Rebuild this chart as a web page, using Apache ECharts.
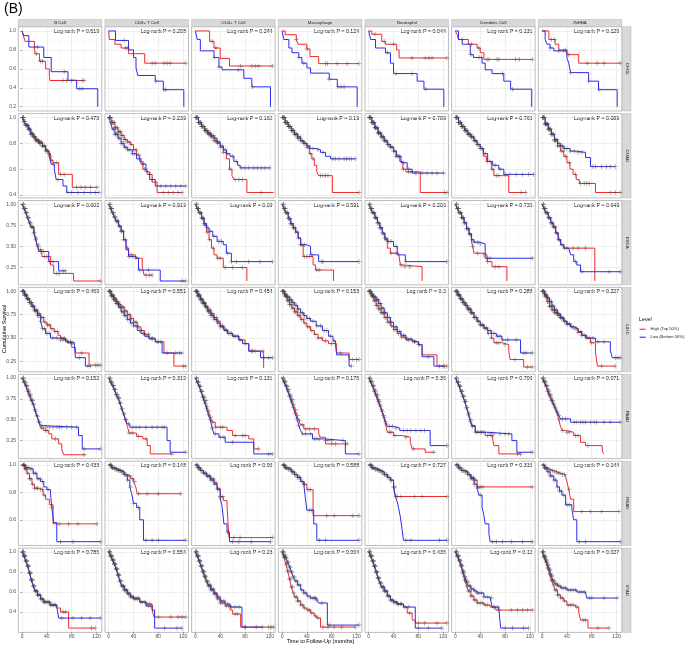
<!DOCTYPE html>
<html>
<head>
<meta charset="utf-8">
<script src="https://cdn.jsdelivr.net/npm/echarts@6/dist/echarts.min.js"></script>
<style>
  html, body { margin: 0; background: #fff; }
  #chart { width: 685px; height: 646px; }
</style>
</head>
<body>
<div id="chart"></div>
<script>
// facets
const CELLS = ['B Cell', 'CD8+ T Cell', 'CD4+ T Cell', 'Macrophage', 'Neutrophil', 'Dendritic Cell', 'INHBA']
const CANCERS = ['CHOL', 'COAD', 'ESCA', 'LIHC', 'PAAD', 'READ', 'STAD']
const LEVELS = ['High (Top 50%)', 'Low (Bottom 50%)']

// axes
const X_TICKS = [0, 40, 80, 120]
const X_MINOR = [20, 60, 100]
const Y_MIN = [0.155, 0.378, 0.045, 0.14, 0.034, 0.412, 0.197]
const Y_MAX = [1.045, 1.03, 1.045, 1.042, 1.044, 1.028, 1.038]
const Y_TICKS = [
  [0.2, 0.4, 0.6, 0.8, 1.0], [0.4, 0.6, 0.8, 1.0], [0.25, 0.5, 0.75, 1.0], [0.25, 0.5, 0.75, 1.0],
  [0.25, 0.5, 0.75, 1.0], [0.6, 0.8, 1.0], [0.4, 0.6, 0.8, 1.0]
]
const Y_MINOR = [
  [0.3, 0.5, 0.7, 0.9], [0.5, 0.7, 0.9], [0.125, 0.375, 0.625, 0.875], [0.375, 0.625, 0.875],
  [0.125, 0.375, 0.625, 0.875], [0.5, 0.7, 0.9], [0.3, 0.5, 0.7, 0.9]
]
const Y_DEC = [1, 1, 2, 2, 2, 1, 1]

// log-rank p, one row per cancer, one value per cell type
const CHOL_P = [0.619, 0.208, 0.244, 0.124, 0.044, 0.131, 0.129]
const COAD_P = [0.478, 0.239, 0.162, 0.19, 0.789, 0.765, 0.089]
const ESCA_P = [0.602, 0.919, 0.09, 0.591, 0.206, 0.735, 0.649]
const LIHC_P = [0.469, 0.551, 0.454, 0.153, 0.2, 0.288, 0.227]
const PAAD_P = [0.152, 0.319, 0.131, 0.175, 0.36, 0.706, 0.071]
const READ_P = [0.433, 0.148, 0.96, 0.588, 0.727, 0.315, 0.144]
const STAD_P = [0.786, 0.554, 0.23, 0.004, 0.436, 0.12, 0.027]

// survival steps [months, survival] per cell type; last pair = end of follow-up
const CHOL_HIGH = [
  [[0,1],[2,0.95],[5,0.89],[20,0.82],[21,0.76],[28,0.68],[38,0.6],[44,0.52],[45,0.477],[100,0.477]],
  [[0,1],[1,0.91],[10,0.86],[20,0.82],[32,0.76],[58,0.66],[124,0.66]],
  [[0,1],[23,0.89],[30,0.82],[40,0.71],[55,0.63],[124,0.63]],
  [[0,1],[5,0.96],[23,0.91],[26,0.86],[40,0.81],[45,0.73],[59,0.655],[124,0.655]],
  [[0,1],[5,0.965],[21,0.89],[27,0.86],[45,0.8],[49,0.715],[126,0.715]],
  [[0,1],[3,0.96],[5,0.91],[21,0.86],[35,0.82],[40,0.77],[46,0.7],[124,0.7]],
  [[0,1],[11,0.91],[21,0.86],[27,0.8],[40,0.75],[59,0.66],[126,0.66]]
]
const CHOL_LOW = [
  [[0,1],[3,0.95],[11,0.83],[35,0.72],[47,0.57],[74,0.48],[88,0.39],[122,0.2]],
  [[0,1],[11,0.9],[32,0.8],[40,0.72],[44,0.61],[47,0.53],[75,0.47],[88,0.38],[121,0.2]],
  [[0,1],[3,0.91],[8,0.79],[30,0.72],[38,0.62],[43,0.59],[78,0.5],[91,0.41],[121,0.2]],
  [[0,1],[3,0.91],[11,0.82],[16,0.77],[27,0.72],[32,0.66],[40,0.61],[46,0.555],[76,0.49],[89,0.41],[121,0.2]],
  [[0,1],[3,0.91],[11,0.82],[27,0.77],[35,0.66],[40,0.55],[78,0.47],[89,0.385],[121,0.2]],
  [[0,1],[5,0.91],[11,0.86],[24,0.75],[29,0.72],[43,0.66],[48,0.59],[59,0.55],[78,0.47],[89,0.385],[123,0.2]],
  [[0,1],[5,0.91],[8,0.86],[13,0.82],[19,0.79],[40,0.72],[43,0.66],[46,0.56],[75,0.47],[91,0.38],[121,0.2]]
]
const CHOL_HIGH_CENS = [
  [23,30,33,66,72,80,97,100], [27,30,70,75,89,94,99,124], [27,33,73,91,97,102,124],
  [23,40,70,73,89,105,124], [10,25,40,70,91,97,102,126], [11,26,38,51,54,67,70,97,103,124],
  [15,20,38,43,73,89,100,126]
]
const CHOL_LOW_CENS = [
  [25,68,93,97], [25,76,89,92], [31,38,69,92], [27,35,76,90,95,100], [30,44,70,92], [25,38,42,76,92], [13,27,35,46,75,92]
]

const COAD_HIGH = [
  [[0,1],[3,0.97],[6,0.94],[10,0.91],[14,0.88],[18,0.85],[22,0.83],[27,0.81],[33,0.78],[38,0.75],[42,0.72],[46,0.67],[50,0.65],[59,0.56],[81,0.46],[121,0.46]],
  [[0,1],[5,0.96],[10,0.92],[15,0.89],[20,0.86],[25,0.83],[30,0.81],[35,0.79],[40,0.75],[45,0.71],[50,0.66],[55,0.6],[62,0.56],[70,0.5],[78,0.42],[118,0.42]],
  [[0,1],[5,0.96],[10,0.93],[15,0.9],[20,0.87],[25,0.85],[30,0.82],[35,0.8],[40,0.77],[45,0.73],[50,0.68],[55,0.6],[59,0.55],[62,0.52],[83,0.42],[126,0.42]],
  [[0,1],[5,0.96],[10,0.93],[15,0.9],[20,0.87],[25,0.84],[30,0.82],[35,0.8],[40,0.77],[44,0.72],[48,0.68],[52,0.63],[56,0.58],[59,0.55],[81,0.42],[124,0.42]],
  [[0,1],[5,0.96],[10,0.92],[15,0.88],[20,0.85],[25,0.82],[30,0.79],[35,0.77],[40,0.74],[44,0.7],[50,0.66],[55,0.6],[60,0.58],[83,0.42],[126,0.42]],
  [[0,1],[5,0.96],[10,0.93],[15,0.9],[20,0.87],[25,0.85],[30,0.82],[35,0.79],[40,0.76],[45,0.7],[50,0.66],[58,0.6],[62,0.55],[86,0.42],[113,0.42]],
  [[0,1],[5,0.95],[10,0.91],[15,0.87],[20,0.82],[25,0.78],[30,0.74],[35,0.7],[40,0.65],[45,0.6],[50,0.56],[55,0.52],[60,0.49],[86,0.42],[126,0.42]]
]
const COAD_LOW = [
  [[0,1],[3,0.97],[6,0.94],[10,0.91],[14,0.87],[18,0.85],[22,0.82],[27,0.8],[33,0.78],[38,0.74],[44,0.7],[47,0.64],[52,0.6],[55,0.52],[66,0.47],[72,0.42],[124,0.42]],
  [[0,1],[3,0.96],[6,0.91],[10,0.87],[15,0.84],[20,0.8],[25,0.77],[30,0.75],[38,0.72],[45,0.68],[52,0.64],[60,0.58],[66,0.52],[75,0.47],[124,0.47]],
  [[0,1],[5,0.96],[10,0.93],[15,0.9],[20,0.88],[25,0.86],[30,0.84],[35,0.81],[40,0.78],[45,0.75],[50,0.72],[56,0.7],[62,0.66],[68,0.63],[72,0.61],[120,0.61]],
  [[0,1],[5,0.96],[10,0.93],[15,0.9],[20,0.87],[25,0.85],[30,0.82],[35,0.8],[40,0.78],[45,0.76],[55,0.75],[62,0.73],[70,0.7],[78,0.68],[118,0.68]],
  [[0,1],[5,0.96],[10,0.92],[15,0.88],[20,0.85],[25,0.82],[30,0.79],[35,0.77],[40,0.74],[45,0.7],[52,0.65],[62,0.6],[70,0.57],[121,0.57]],
  [[0,1],[5,0.96],[10,0.93],[15,0.9],[20,0.87],[25,0.85],[30,0.82],[35,0.79],[40,0.76],[45,0.72],[52,0.66],[60,0.63],[70,0.6],[78,0.56],[126,0.56]],
  [[0,1],[5,0.95],[10,0.91],[15,0.87],[20,0.83],[25,0.8],[30,0.78],[35,0.76],[45,0.74],[55,0.73],[70,0.69],[78,0.62],[118,0.62]]
]
const COAD_HIGH_CENS = [
  [1,2,3,4,6,7,9,10,12,13,15,16,18,20,21,23,25,27,29,31,33,36,39,43,47,56,62,68,88,95,102,110,121],
  [1,2,3,5,6,8,9,11,12,14,16,17,19,21,23,25,27,30,33,36,40,44,48,58,66,88,96,104,112,118],
  [1,2,3,5,6,8,9,11,12,14,16,17,19,21,23,25,27,30,33,36,40,45,56,64,70,76,106],
  [1,2,3,5,6,8,9,11,12,14,16,17,19,21,23,25,27,30,33,36,40,46,50,62,66,70,74,124],
  [1,2,3,5,6,8,9,11,12,14,16,17,19,21,23,25,27,30,33,36,40,44,48,56,64,68,122,126],
  [1,2,3,5,6,8,9,11,12,14,16,17,19,21,23,25,27,30,33,36,40,44,52,60,66,70,106,113],
  [1,2,3,5,6,8,9,11,12,14,16,18,20,22,25,28,31,34,38,44,54,62,68,72,76,110,118,126]
]
const COAD_LOW_CENS = [
  [1,2,3,5,6,8,9,11,12,14,15,17,19,20,22,24,26,28,30,33,35,38,41,45,50,58,74,80,90,100,110,118,124],
  [1,2,4,5,7,8,10,11,13,14,16,18,20,22,24,26,28,31,34,38,42,50,56,70,84,92,100,108,116,124],
  [1,2,4,5,7,8,10,11,13,15,16,18,20,22,24,26,29,32,35,38,43,48,52,60,66,74,80,86,94,100,106,112,120],
  [1,2,4,5,7,8,10,11,13,15,16,18,20,22,24,26,29,32,35,38,42,45,50,58,66,82,86,92,100,104,108,112,118],
  [1,2,4,5,7,8,10,11,13,15,16,18,20,22,24,26,29,32,35,38,42,46,50,56,64,76,86,94,102,110,121],
  [1,2,4,5,7,8,10,11,13,15,16,18,20,22,24,26,29,32,35,38,42,48,56,64,72,80,88,98,108,118,126],
  [1,2,4,5,7,8,10,11,13,15,16,18,20,22,24,27,30,33,36,40,46,52,58,64,82,86,96,104,110,118]
]

const ESCA_HIGH = [
  [[0,1],[3,0.95],[6,0.9],[9,0.84],[12,0.78],[15,0.73],[19,0.67],[22,0.6],[24,0.52],[27,0.46],[32,0.38],[46,0.28],[51,0.18],[83,0.09],[126,0.09]],
  [[0,1],[3,0.95],[6,0.9],[9,0.85],[12,0.8],[16,0.74],[20,0.68],[24,0.58],[28,0.48],[32,0.4],[43,0.36],[54,0.26],[57,0.16],[70,0.16]],
  [[0,1],[3,0.95],[6,0.9],[10,0.83],[14,0.75],[18,0.67],[22,0.58],[26,0.48],[30,0.4],[35,0.36],[45,0.25],[83,0.09]],
  [[0,1],[3,0.95],[6,0.9],[10,0.83],[14,0.77],[18,0.72],[22,0.67],[26,0.6],[30,0.52],[34,0.38],[50,0.28],[54,0.22],[83,0.09]],
  [[0,1],[3,0.95],[6,0.9],[10,0.84],[14,0.78],[18,0.72],[22,0.65],[26,0.58],[30,0.48],[35,0.42],[48,0.4],[51,0.28],[56,0.26],[86,0.09]],
  [[0,1],[3,0.95],[6,0.9],[10,0.84],[14,0.78],[18,0.71],[22,0.64],[26,0.55],[28,0.5],[30,0.42],[46,0.4],[51,0.32],[59,0.26],[83,0.09]],
  [[0,1],[3,0.95],[6,0.9],[10,0.84],[14,0.78],[18,0.73],[22,0.66],[26,0.58],[30,0.52],[35,0.48],[85,0.09]]
]
const ESCA_LOW = [
  [[0,1],[3,0.95],[6,0.9],[9,0.84],[12,0.78],[15,0.73],[19,0.66],[22,0.58],[25,0.5],[27,0.44],[43,0.32],[59,0.21],[70,0.21]],
  [[0,1],[3,0.95],[6,0.9],[9,0.85],[12,0.8],[16,0.74],[20,0.68],[24,0.58],[28,0.46],[32,0.38],[43,0.36],[48,0.22],[83,0.09],[124,0.09]],
  [[0,1],[3,0.95],[6,0.9],[10,0.84],[14,0.77],[18,0.72],[22,0.68],[28,0.62],[35,0.56],[45,0.52],[50,0.42],[58,0.32],[124,0.32]],
  [[0,1],[3,0.95],[6,0.9],[10,0.83],[14,0.77],[18,0.72],[22,0.67],[26,0.6],[30,0.52],[40,0.5],[46,0.4],[59,0.32],[124,0.32]],
  [[0,1],[3,0.95],[6,0.9],[10,0.84],[14,0.78],[18,0.72],[22,0.66],[26,0.6],[30,0.56],[40,0.5],[46,0.4],[59,0.32],[126,0.32]],
  [[0,1],[3,0.95],[6,0.9],[10,0.84],[14,0.78],[18,0.71],[22,0.65],[26,0.58],[30,0.55],[40,0.53],[48,0.36],[124,0.36]],
  [[0,1],[3,0.95],[6,0.9],[10,0.84],[14,0.78],[18,0.73],[22,0.66],[26,0.58],[30,0.52],[35,0.48],[43,0.46],[46,0.4],[51,0.32],[56,0.28],[62,0.2],[126,0.2]]
]
const ESCA_HIGH_CENS = [
  [2,4,5,7,9,11,13,15,17,20,23,26,30,36,40,56,60,126],
  [2,4,5,7,9,11,13,15,18,21,24,30,36,44,60,66,70],
  [2,4,5,7,9,11,13,16,19,23,29,36,40,48,60,76],
  [2,4,5,7,9,11,13,15,18,21,25,30,36,40,44,56,60],
  [2,4,5,7,9,11,13,15,18,21,24,28,36,44,52,58,66],
  [2,4,5,7,9,11,13,15,18,21,24,28,36,46,52,64,70],
  [2,4,5,7,9,11,13,15,18,21,24,28,32,40,50,58,70]
]
const ESCA_LOW_CENS = [
  [2,3,5,6,8,10,12,14,16,19,22,26,30,35,44,50,66,70],
  [2,3,5,6,8,10,12,14,17,20,23,27,33,38,50,64,118,124],
  [2,3,5,7,8,10,12,14,16,20,24,30,38,42,52,58,66,86,104,124],
  [2,3,5,6,8,10,12,14,16,19,22,26,32,36,48,64,66,124],
  [2,3,5,6,8,10,12,14,16,19,22,26,32,36,44,60,126],
  [2,3,5,6,8,10,12,14,17,20,23,27,30,36,40,52,56,124],
  [2,3,5,6,8,10,12,14,17,20,23,27,36,54,64,108,126]
]

const LIHC_HIGH = [
  [[0,1],[4,0.96],[8,0.92],[12,0.88],[16,0.84],[20,0.8],[25,0.76],[30,0.72],[35,0.67],[40,0.64],[46,0.6],[52,0.57],[58,0.53],[62,0.5],[70,0.46],[80,0.4],[86,0.34],[108,0.21],[126,0.21]],
  [[0,1],[4,0.96],[8,0.93],[12,0.89],[16,0.86],[20,0.83],[25,0.79],[30,0.75],[35,0.71],[40,0.67],[46,0.62],[52,0.58],[58,0.54],[65,0.5],[75,0.46],[89,0.34],[105,0.2],[124,0.2]],
  [[0,1],[4,0.96],[8,0.92],[12,0.88],[16,0.84],[20,0.8],[25,0.76],[30,0.72],[35,0.68],[40,0.63],[46,0.59],[52,0.55],[60,0.52],[70,0.48],[80,0.44],[86,0.36],[110,0.18]],
  [[0,1],[4,0.95],[8,0.9],[12,0.86],[16,0.82],[20,0.78],[25,0.74],[30,0.7],[35,0.66],[40,0.62],[46,0.58],[52,0.54],[58,0.5],[65,0.47],[75,0.44],[88,0.34],[108,0.27],[124,0.27]],
  [[0,1],[4,0.95],[8,0.9],[12,0.85],[16,0.81],[20,0.77],[25,0.72],[30,0.67],[35,0.63],[40,0.59],[46,0.55],[52,0.51],[60,0.48],[70,0.46],[80,0.43],[86,0.32],[110,0.2],[126,0.2]],
  [[0,1],[4,0.96],[8,0.92],[12,0.88],[16,0.85],[20,0.81],[25,0.77],[30,0.72],[35,0.68],[40,0.64],[46,0.6],[52,0.55],[58,0.5],[62,0.45],[75,0.43],[86,0.37],[88,0.27],[110,0.19],[124,0.19]],
  [[0,1],[4,0.95],[8,0.89],[12,0.84],[16,0.8],[20,0.77],[25,0.74],[30,0.71],[35,0.68],[40,0.65],[46,0.62],[52,0.6],[58,0.56],[64,0.53],[70,0.5],[78,0.45],[86,0.36],[89,0.2],[118,0.2]]
]
const LIHC_LOW = [
  [[0,1],[4,0.96],[8,0.92],[12,0.88],[16,0.84],[20,0.79],[25,0.74],[30,0.68],[33,0.6],[38,0.55],[46,0.5],[60,0.48],[73,0.45],[84,0.43],[86,0.29],[102,0.2],[110,0.2]],
  [[0,1],[4,0.95],[8,0.91],[12,0.87],[16,0.83],[20,0.78],[25,0.74],[30,0.7],[35,0.66],[40,0.63],[46,0.58],[52,0.55],[58,0.52],[65,0.49],[75,0.46],[86,0.34],[118,0.34]],
  [[0,1],[4,0.95],[8,0.91],[12,0.87],[16,0.83],[20,0.78],[25,0.74],[30,0.7],[35,0.66],[40,0.62],[46,0.58],[52,0.55],[60,0.52],[70,0.48],[76,0.44],[86,0.36],[105,0.29],[124,0.29]],
  [[0,1],[4,0.97],[8,0.94],[12,0.91],[16,0.88],[20,0.85],[25,0.81],[30,0.77],[35,0.74],[40,0.71],[46,0.68],[55,0.63],[65,0.58],[75,0.52],[82,0.47],[86,0.43],[88,0.32],[108,0.2],[112,0.2]],
  [[0,1],[4,0.97],[8,0.94],[12,0.91],[16,0.87],[20,0.82],[25,0.77],[30,0.72],[35,0.67],[40,0.62],[46,0.57],[52,0.53],[60,0.49],[70,0.46],[80,0.43],[86,0.3],[105,0.2],[120,0.2]],
  [[0,1],[4,0.96],[8,0.92],[12,0.88],[16,0.85],[20,0.81],[25,0.77],[30,0.72],[35,0.68],[40,0.64],[46,0.61],[52,0.58],[58,0.55],[66,0.52],[75,0.48],[105,0.34],[124,0.34]],
  [[0,1],[4,0.97],[8,0.93],[12,0.89],[16,0.84],[20,0.8],[25,0.76],[30,0.72],[35,0.68],[40,0.65],[46,0.62],[52,0.6],[58,0.57],[64,0.53],[72,0.5],[86,0.46],[110,0.37],[113,0.29],[126,0.29]]
]
const LIHC_HIGH_CENS = [
  [1,2,3,5,6,7,9,10,12,13,15,16,18,20,22,24,26,28,31,34,37,41,44,48,53,57,64,68,74,78,96,118,122,126],
  [1,2,3,5,6,7,9,10,12,13,15,16,18,20,22,24,26,28,31,34,37,41,44,48,53,58,64,70,80,94,120,124],
  [1,2,3,5,6,7,9,10,12,13,15,16,18,20,22,24,26,28,31,34,37,41,44,48,53,58,64,72,90,96,108],
  [1,2,3,5,6,7,9,10,12,13,15,16,18,20,22,24,26,28,31,34,37,41,44,48,53,58,64,70,80,94,114,120,124],
  [1,2,3,5,6,7,9,10,12,13,15,16,18,20,22,24,26,28,31,34,37,41,44,48,53,58,64,74,82,114,122,126],
  [1,2,3,5,6,7,9,10,12,13,15,16,18,20,22,24,26,28,31,34,37,41,44,48,53,58,66,70,80,96,116,124],
  [1,2,3,5,6,7,9,10,12,13,15,16,18,20,22,24,26,28,31,34,37,41,44,48,53,58,64,72,80,96,118]
]
const LIHC_LOW_CENS = [
  [1,2,4,5,6,8,9,11,12,14,15,17,19,21,23,25,27,30,33,36,40,44,50,56,62,66,70,78,82,92,106,110],
  [1,2,4,5,6,8,9,11,12,14,15,17,19,21,23,25,27,30,33,36,40,44,50,56,62,70,78,84,108,114,118],
  [1,2,4,5,6,8,9,11,12,14,15,17,19,21,23,25,27,30,33,36,40,44,50,56,62,68,80,92,110,118,124],
  [1,2,4,5,6,8,9,11,12,14,15,17,19,21,23,25,27,30,33,36,40,44,50,56,62,68,72,78,84,112],
  [1,2,4,5,6,8,9,11,12,14,15,17,19,21,23,25,27,30,33,36,40,44,50,56,62,68,74,80,96,120],
  [1,2,4,5,6,8,9,11,12,14,15,17,19,21,23,25,27,30,33,36,40,44,50,56,62,68,72,76,84,98,110,114,124],
  [1,2,4,5,6,8,9,11,12,14,15,17,19,21,23,25,27,30,33,36,40,44,50,56,62,68,76,82,90,100,118,122,126]
]

const PAAD_HIGH = [
  [[0,1],[3,0.95],[6,0.9],[9,0.84],[12,0.78],[15,0.73],[18,0.68],[21,0.6],[24,0.54],[27,0.47],[30,0.4],[35,0.37],[43,0.33],[48,0.27],[59,0.21],[64,0.15],[67,0.08],[102,0.08]],
  [[0,1],[3,0.95],[6,0.91],[9,0.86],[12,0.8],[15,0.76],[18,0.7],[21,0.63],[24,0.57],[27,0.5],[30,0.42],[33,0.34],[45,0.3],[55,0.27],[62,0.19],[67,0.09],[102,0.09]],
  [[0,1],[3,0.95],[6,0.9],[9,0.84],[12,0.78],[15,0.73],[18,0.66],[21,0.6],[24,0.53],[27,0.47],[32,0.41],[51,0.37],[60,0.31],[86,0.27],[94,0.15],[102,0.15]],
  [[0,1],[3,0.96],[6,0.91],[9,0.86],[12,0.8],[15,0.74],[18,0.68],[21,0.62],[24,0.55],[27,0.49],[30,0.44],[35,0.39],[59,0.33],[62,0.29],[70,0.21],[105,0.21]],
  [[0,1],[3,0.95],[6,0.9],[9,0.84],[12,0.78],[15,0.72],[18,0.66],[21,0.6],[24,0.53],[27,0.45],[30,0.35],[40,0.31],[55,0.29],[67,0.23],[70,0.15],[91,0.11],[105,0.11]],
  [[0,1],[3,0.95],[6,0.9],[9,0.84],[12,0.78],[15,0.72],[18,0.65],[21,0.58],[24,0.5],[27,0.43],[32,0.35],[48,0.31],[60,0.27],[62,0.19],[70,0.09],[105,0.09]],
  [[0,1],[3,0.95],[6,0.9],[9,0.84],[12,0.78],[15,0.73],[18,0.68],[21,0.63],[24,0.58],[27,0.5],[30,0.41],[33,0.37],[38,0.35],[51,0.31],[62,0.23],[70,0.19],[97,0.13],[99,0.09]]
]
const PAAD_LOW = [
  [[0,1],[3,0.95],[6,0.91],[9,0.86],[12,0.8],[15,0.74],[18,0.69],[21,0.62],[24,0.55],[27,0.48],[30,0.43],[33,0.41],[91,0.31],[97,0.15],[126,0.15]],
  [[0,1],[3,0.95],[6,0.91],[9,0.86],[12,0.8],[15,0.76],[18,0.7],[21,0.63],[24,0.57],[27,0.5],[30,0.45],[34,0.41],[94,0.25],[99,0.11],[124,0.11]],
  [[0,1],[3,0.95],[6,0.9],[9,0.84],[12,0.77],[15,0.7],[18,0.63],[21,0.56],[24,0.5],[27,0.4],[30,0.33],[38,0.29],[48,0.23],[94,0.09],[124,0.09]],
  [[0,1],[3,0.95],[6,0.9],[9,0.84],[12,0.78],[15,0.71],[18,0.65],[21,0.58],[24,0.51],[27,0.43],[30,0.37],[33,0.33],[49,0.27],[67,0.25],[102,0.09],[124,0.09]],
  [[0,1],[3,0.96],[6,0.91],[9,0.86],[12,0.8],[15,0.74],[18,0.68],[21,0.62],[24,0.55],[27,0.48],[30,0.42],[40,0.4],[50,0.37],[99,0.19],[126,0.19]],
  [[0,1],[3,0.95],[6,0.9],[9,0.84],[12,0.78],[15,0.72],[18,0.64],[21,0.56],[24,0.48],[27,0.42],[32,0.35],[51,0.33],[91,0.25],[99,0.11],[124,0.11]],
  [[0,1],[3,0.96],[6,0.91],[9,0.86],[12,0.8],[15,0.75],[18,0.7],[21,0.65],[24,0.6],[27,0.55],[30,0.51],[46,0.47],[126,0.47]]
]
const PAAD_HIGH_CENS = [
  [2,4,5,7,9,11,13,15,17,19,22,25,28,32,38,40,54,100],
  [2,4,5,7,9,11,13,15,17,19,22,25,28,33,38,48,60,102],
  [2,4,5,7,9,11,13,15,17,19,22,25,28,33,40,44,64,76,80,102],
  [2,4,5,7,9,11,13,15,17,19,22,25,28,33,38,44,52,80,86,105],
  [2,4,5,7,9,11,13,15,17,19,22,25,28,33,36,42,60,72,105],
  [2,4,5,7,9,11,13,15,17,19,22,25,28,36,42,52,58,100,105],
  [2,4,5,7,9,11,13,15,17,19,22,25,28,33,40,44,54,58,74]
]
const PAAD_LOW_CENS = [
  [2,3,5,7,8,10,12,14,16,18,21,24,27,32,38,44,50,56,60,64,72,80,88,100,126],
  [2,3,5,7,8,10,12,14,16,18,21,24,27,32,38,44,50,60,70,78,86,90,124],
  [2,3,5,7,8,10,12,14,16,18,21,24,27,32,40,46,60,118,124],
  [2,3,5,7,8,10,12,14,16,18,21,24,27,33,38,46,52,56,60,70,74,80,98,124],
  [2,3,5,7,8,10,12,14,16,18,21,24,27,33,38,44,56,62,68,76,84,90,126],
  [2,3,5,7,8,10,12,14,16,18,21,24,27,33,40,46,56,62,72,80,86,124],
  [2,3,5,7,8,10,12,14,16,18,21,24,27,33,38,52,56,62,66,70,78,84,88,100,110,126]
]

const READ_HIGH = [
  [[0,1],[4,0.97],[8,0.94],[12,0.9],[16,0.86],[20,0.83],[28,0.82],[34,0.78],[38,0.75],[44,0.71],[50,0.57],[121,0.57]],
  [[0,1],[5,0.98],[10,0.97],[15,0.96],[20,0.95],[25,0.93],[30,0.92],[35,0.9],[40,0.88],[43,0.85],[46,0.79],[116,0.79]],
  [[0,1],[4,0.98],[8,0.96],[13,0.94],[18,0.92],[24,0.9],[30,0.87],[35,0.83],[40,0.77],[45,0.74],[51,0.7],[54,0.47],[124,0.47]],
  [[0,1],[5,0.98],[10,0.97],[15,0.95],[20,0.93],[25,0.91],[30,0.88],[35,0.86],[40,0.82],[50,0.63],[124,0.63]],
  [[0,1],[5,0.98],[10,0.97],[15,0.96],[20,0.95],[25,0.93],[30,0.91],[35,0.89],[40,0.84],[43,0.77],[126,0.77]],
  [[0,1],[5,0.98],[10,0.96],[15,0.95],[20,0.93],[25,0.91],[30,0.89],[35,0.84],[124,0.84]],
  [[0,1],[4,0.98],[8,0.97],[13,0.96],[18,0.95],[24,0.94],[30,0.93],[38,0.91],[40,0.88],[43,0.82],[46,0.75],[51,0.66],[124,0.66]]
]
const READ_LOW = [
  [[0,1],[6,0.98],[12,0.97],[18,0.94],[24,0.9],[30,0.88],[35,0.84],[40,0.82],[46,0.78],[48,0.69],[51,0.58],[56,0.44],[126,0.44]],
  [[0,1],[5,0.98],[10,0.97],[15,0.96],[20,0.95],[25,0.93],[30,0.89],[34,0.84],[37,0.79],[40,0.72],[45,0.69],[50,0.6],[56,0.45],[124,0.45]],
  [[0,1],[4,0.98],[8,0.96],[13,0.94],[18,0.92],[24,0.89],[30,0.86],[35,0.82],[40,0.76],[43,0.7],[46,0.57],[51,0.51],[55,0.44],[121,0.44]],
  [[0,1],[5,0.98],[10,0.97],[15,0.95],[20,0.93],[25,0.91],[30,0.88],[35,0.86],[37,0.78],[40,0.67],[51,0.57],[56,0.45],[124,0.45]],
  [[0,1],[5,0.98],[10,0.97],[15,0.96],[20,0.95],[25,0.93],[30,0.91],[35,0.89],[40,0.84],[43,0.77],[46,0.73],[48,0.69],[51,0.62],[54,0.52],[56,0.45],[126,0.45]],
  [[0,1],[5,0.98],[10,0.96],[15,0.95],[20,0.93],[25,0.9],[30,0.86],[35,0.83],[38,0.78],[43,0.69],[46,0.63],[48,0.57],[54,0.5],[56,0.44],[124,0.44]],
  [[0,1],[4,0.98],[8,0.95],[13,0.92],[19,0.89],[24,0.84],[28,0.81],[32,0.78],[38,0.71],[48,0.68],[51,0.6],[56,0.44],[126,0.44]]
]
const READ_HIGH_CENS = [
  [2,3,5,7,9,12,14,17,20,23,25,30,33,36,60,75,90,121],
  [3,5,7,10,13,16,19,22,25,28,31,34,38,42,48,62,80,116],
  [2,4,6,8,11,14,17,20,23,26,29,33,36,40,44,62,72,124],
  [2,4,6,8,11,14,17,20,23,26,29,33,36,42,46,72,84,114,124],
  [2,4,6,8,11,14,17,20,23,26,29,33,36,40,46,52,74,86,126],
  [2,4,6,8,11,14,17,20,23,26,29,31,33,36,40,44,124],
  [2,4,6,8,11,14,17,20,23,26,29,33,36,44,64,78,96,124]
]
const READ_LOW_CENS = [
  [2,4,6,8,10,13,16,19,22,26,29,33,42,48,62,82,126],
  [2,4,6,9,12,15,18,21,24,27,30,35,40,48,60,70,80,124],
  [3,5,7,10,13,16,19,22,25,28,31,36,40,52,60,70,90,121],
  [3,5,7,10,13,16,19,22,25,28,31,36,44,48,60,70,124],
  [3,5,7,10,13,16,19,22,25,28,31,36,42,44,60,68,114,126],
  [3,5,7,10,13,16,19,22,25,28,31,36,40,60,66,76,90,108,124],
  [3,5,7,10,13,16,19,22,25,28,31,35,40,44,60,70,126]
]

const STAD_HIGH = [
  [[0,1],[3,0.96],[6,0.91],[9,0.86],[12,0.79],[15,0.72],[18,0.66],[21,0.61],[25,0.57],[30,0.53],[35,0.5],[45,0.47],[56,0.44],[62,0.4],[75,0.24],[118,0.24]],
  [[0,1],[3,0.96],[6,0.92],[9,0.88],[12,0.83],[15,0.77],[18,0.71],[21,0.66],[25,0.62],[30,0.59],[35,0.56],[40,0.54],[50,0.5],[60,0.48],[70,0.42],[73,0.35],[124,0.35]],
  [[0,1],[3,0.96],[6,0.91],[9,0.86],[12,0.8],[15,0.75],[18,0.7],[21,0.66],[25,0.62],[30,0.58],[35,0.53],[40,0.49],[48,0.46],[56,0.42],[60,0.38],[73,0.25],[126,0.25]],
  [[0,1],[3,0.95],[6,0.88],[9,0.81],[12,0.73],[15,0.65],[18,0.59],[21,0.55],[25,0.51],[30,0.47],[35,0.44],[40,0.42],[46,0.39],[52,0.36],[56,0.34],[62,0.25],[118,0.25]],
  [[0,1],[3,0.96],[6,0.91],[9,0.86],[12,0.8],[15,0.74],[18,0.69],[21,0.65],[25,0.61],[30,0.56],[35,0.52],[40,0.5],[46,0.48],[56,0.45],[62,0.39],[70,0.32],[75,0.29],[126,0.29]],
  [[0,1],[3,0.96],[6,0.91],[9,0.86],[12,0.79],[15,0.72],[18,0.66],[21,0.61],[25,0.56],[30,0.52],[35,0.49],[46,0.47],[56,0.45],[65,0.42],[124,0.42]],
  [[0,1],[3,0.95],[6,0.9],[9,0.84],[12,0.78],[15,0.72],[18,0.67],[21,0.62],[25,0.57],[30,0.54],[35,0.51],[40,0.47],[54,0.45],[59,0.4],[62,0.32],[74,0.24],[108,0.24]]
]
const STAD_LOW = [
  [[0,1],[3,0.96],[6,0.91],[9,0.86],[12,0.79],[15,0.72],[18,0.66],[21,0.61],[25,0.57],[30,0.53],[35,0.5],[45,0.47],[56,0.45],[59,0.34],[126,0.34]],
  [[0,1],[3,0.96],[6,0.92],[9,0.88],[12,0.83],[15,0.77],[18,0.71],[21,0.66],[25,0.62],[30,0.58],[35,0.55],[40,0.53],[50,0.5],[60,0.46],[70,0.42],[74,0.24],[118,0.24]],
  [[0,1],[3,0.96],[6,0.91],[9,0.86],[12,0.81],[15,0.76],[18,0.71],[21,0.67],[25,0.63],[30,0.59],[35,0.55],[40,0.51],[48,0.48],[56,0.45],[75,0.25],[108,0.25]],
  [[0,1],[3,0.97],[6,0.94],[9,0.9],[12,0.85],[15,0.8],[18,0.75],[21,0.71],[25,0.67],[30,0.62],[35,0.59],[40,0.56],[46,0.54],[56,0.52],[59,0.49],[73,0.27],[124,0.27]],
  [[0,1],[3,0.96],[6,0.91],[9,0.86],[12,0.8],[15,0.74],[18,0.69],[21,0.65],[25,0.61],[30,0.56],[35,0.52],[40,0.5],[46,0.48],[56,0.45],[75,0.24],[118,0.24]],
  [[0,1],[3,0.96],[6,0.92],[9,0.87],[12,0.81],[15,0.75],[18,0.7],[21,0.66],[25,0.63],[30,0.61],[35,0.59],[46,0.55],[56,0.54],[59,0.45],[70,0.43],[73,0.24],[118,0.24]],
  [[0,1],[3,0.96],[6,0.92],[9,0.87],[12,0.82],[15,0.76],[18,0.71],[21,0.68],[25,0.66],[30,0.64],[40,0.62],[56,0.6],[70,0.59],[72,0.54],[121,0.54]]
]
const STAD_HIGH_CENS = [
  [1,2,3,4,5,7,8,9,11,12,14,15,17,19,21,23,25,27,30,33,36,40,44,48,52,66,70,112,118],
  [1,2,3,4,5,7,8,9,11,12,14,15,17,19,21,23,25,27,30,33,36,40,44,48,54,62,66,80,100,112,118,124],
  [1,2,3,4,5,7,8,9,11,12,14,15,17,19,21,23,25,27,30,33,36,40,44,50,54,64,68,80,118,122,126],
  [1,2,3,4,5,7,8,9,11,12,14,15,17,19,21,23,25,27,30,33,36,42,44,48,54,58,66,74,84,96,118],
  [1,2,3,4,5,7,8,9,11,12,14,15,17,19,21,23,25,27,30,33,36,40,44,48,52,66,80,90,110,126],
  [1,2,3,4,5,7,8,9,11,12,14,15,17,19,21,23,25,27,30,33,36,40,44,48,52,62,70,90,100,108,116,124],
  [1,2,3,4,5,7,8,9,11,12,14,15,17,19,21,23,25,27,30,33,36,42,46,50,56,66,70,90,108]
]
const STAD_LOW_CENS = [
  [1,2,3,5,6,7,9,10,12,13,15,16,18,20,22,24,26,29,32,35,38,42,46,50,54,64,82,96,110,126],
  [1,2,3,5,6,7,9,10,12,13,15,16,18,20,22,24,26,29,32,35,38,42,46,52,58,64,68,90,110,118],
  [1,2,3,5,6,7,9,10,12,13,15,16,18,20,22,24,26,29,32,35,38,42,46,52,58,64,70,80,98,108],
  [1,2,3,5,6,7,9,10,12,13,15,16,18,20,22,24,26,29,32,35,38,42,46,50,52,54,56,64,76,124],
  [1,2,3,5,6,7,9,10,12,13,15,16,18,20,22,24,26,29,32,35,38,42,46,52,58,64,80,96,118],
  [1,2,3,5,6,7,9,10,12,13,15,16,18,20,22,24,26,29,32,35,38,42,46,52,58,62,68,80,92,110,118],
  [1,2,3,5,6,7,9,10,12,13,15,16,18,20,22,24,26,29,32,35,38,42,46,50,54,60,64,68,76,80,100,121]
]

const ROW_HIGH = [CHOL_HIGH, COAD_HIGH, ESCA_HIGH, LIHC_HIGH, PAAD_HIGH, READ_HIGH, STAD_HIGH]
const ROW_LOW = [CHOL_LOW, COAD_LOW, ESCA_LOW, LIHC_LOW, PAAD_LOW, READ_LOW, STAD_LOW]
const ROW_HIGH_CENS = [CHOL_HIGH_CENS, COAD_HIGH_CENS, ESCA_HIGH_CENS, LIHC_HIGH_CENS, PAAD_HIGH_CENS, READ_HIGH_CENS, STAD_HIGH_CENS]
const ROW_LOW_CENS = [CHOL_LOW_CENS, COAD_LOW_CENS, ESCA_LOW_CENS, LIHC_LOW_CENS, PAAD_LOW_CENS, READ_LOW_CENS, STAD_LOW_CENS]
const ROW_P = [CHOL_P, COAD_P, ESCA_P, LIHC_P, PAAD_P, READ_P, STAD_P]

// look & layout
const FONT = '"Liberation Sans", Arial, sans-serif'
const RED = '#f22a2a'
const BLUE = '#2b2bf2'
const CENSOR = 'rgba(70,70,70,0.6)'
const PLUS = 'path://M4,0H6V4H10V6H6V10H4V6H0V4H4Z'
const X0 = 18.3, COL_STEP = 86.67, PW = 83.5
const Y0 = 26.7, ROW_STEP = 86.9, PH = 84.3
const colLeft = c => X0 + c * COL_STEP
const rowTop = r => Y0 + r * ROW_STEP

function survAt(curve, t) {
  let s = curve[0][1]
  for (const [tt, ss] of curve) { if (tt <= t) s = ss; else break }
  return s
}

const grid = [], xAxis = [], yAxis = [], series = [], graphic = []

function axisPair(base, majors, minors, showLab, fmt) {
  const major = {
    ...base,
    axisLine: { show: false },
    axisTick: { show: showLab, length: 1.5, customValues: majors, lineStyle: { color: '#333', width: 0.5 } },
    axisLabel: { show: showLab, customValues: majors, fontSize: 5, color: '#4d4d4d', margin: 2.2, fontFamily: FONT, formatter: fmt },
    splitLine: { show: true, lineStyle: { color: '#e4e4e4', width: 0.6 } },
    minorTick: { show: false }, minorSplitLine: { show: false }
  }
  const minor = {
    ...base,
    axisLine: { show: false },
    axisTick: { show: false, customValues: minors },
    axisLabel: { show: false },
    splitLine: { show: true, lineStyle: { color: '#f1f1f1', width: 0.4 } }
  }
  return [major, minor]
}

CANCERS.forEach((cancer, r) => {
  CELLS.forEach((cell, c) => {
    const k = r * 7 + c
    grid.push({ left: colLeft(c), top: rowTop(r), width: PW, height: PH, show: true,
      borderColor: '#8e8e8e', borderWidth: 0.6, backgroundColor: '#fff' })
    xAxis.push(...axisPair({ type: 'value', gridIndex: k, min: -6, max: 128.5 }, X_TICKS, X_MINOR, r === 6, v => String(v)))
    yAxis.push(...axisPair({ type: 'value', gridIndex: k, min: Y_MIN[r], max: Y_MAX[r] }, Y_TICKS[r], Y_MINOR[r], c === 0, v => v.toFixed(Y_DEC[r])))
    const curves = [[ROW_HIGH[r][c], ROW_HIGH_CENS[r][c], RED, LEVELS[0]], [ROW_LOW[r][c], ROW_LOW_CENS[r][c], BLUE, LEVELS[1]]]
    curves.forEach(([curve, cens, color, name]) => {
      series.push({ type: 'line', name, xAxisIndex: 2 * k, yAxisIndex: 2 * k, data: curve, step: 'end',
        symbol: 'none', lineStyle: { color, width: 1 }, itemStyle: { color }, silent: true, z: 2 })
    })
    curves.forEach(([curve, cens]) => {
      series.push({ type: 'scatter', name: 'censor', xAxisIndex: 2 * k, yAxisIndex: 2 * k,
        data: cens.map(t => [t, survAt(curve, t)]), symbol: PLUS, symbolSize: 4.6,
        itemStyle: { color: CENSOR }, silent: true, z: 3 })
    })
    graphic.push({ type: 'text', x: colLeft(c) + PW - 2.6, y: rowTop(r) + 4.6, silent: true,
      style: { text: 'Log-rank P = ' + ROW_P[r][c], fontSize: 5.3, fontFamily: FONT, fill: '#000', align: 'right', verticalAlign: 'middle' } })
  })
})

// facet strips
CELLS.forEach((cell, c) => {
  graphic.push({ type: 'rect', shape: { x: colLeft(c), y: 19.5, width: PW, height: 7.2 }, silent: true,
    style: { fill: '#d9d9d9', stroke: '#a6a6a6', lineWidth: 0.4 } })
  graphic.push({ type: 'text', x: colLeft(c) + PW / 2, y: 23.2, silent: true,
    style: { text: cell, fontSize: 4.4, fontFamily: FONT, fill: '#1a1a1a', align: 'center', verticalAlign: 'middle' } })
})
CANCERS.forEach((cancer, r) => {
  graphic.push({ type: 'rect', shape: { x: 622.6, y: rowTop(r), width: 8.4, height: PH }, silent: true,
    style: { fill: '#d9d9d9', stroke: '#a6a6a6', lineWidth: 0.4 } })
  graphic.push({ type: 'text', x: 626.9, y: rowTop(r) + PH / 2, rotation: -Math.PI / 2, silent: true,
    style: { text: cancer, fontSize: 4.4, fontFamily: FONT, fill: '#1a1a1a', align: 'center', verticalAlign: 'middle' } })
})

graphic.push(
  { type: 'text', x: 4, y: 9.5, silent: true,
    style: { text: '(B)', fontSize: 14, fontFamily: FONT, fill: '#000', verticalAlign: 'middle' } },
  { type: 'text', x: 4.5, y: 329, rotation: Math.PI / 2, silent: true,
    style: { text: 'Cumulative Survival', fontSize: 5.5, fontFamily: FONT, fill: '#000', align: 'center', verticalAlign: 'middle' } },
  { type: 'text', x: 320.5, y: 641.5, silent: true,
    style: { text: 'Time to Follow-Up (months)', fontSize: 5.5, fontFamily: FONT, fill: '#000', align: 'center', verticalAlign: 'middle' } },
  { type: 'text', x: 639, y: 320, silent: true,
    style: { text: 'Level', fontSize: 5.3, fontFamily: FONT, fill: '#000', verticalAlign: 'middle' } }
)

const chart = echarts.init(document.getElementById('chart'), null, { renderer: 'canvas' })
chart.setOption({
  animation: false,
  textStyle: { fontFamily: FONT },
  legend: {
    data: LEVELS, orient: 'vertical', left: 639.6, top: 326.5, padding: 0,
    icon: 'rect', itemWidth: 6, itemHeight: 1.1, itemGap: 2.5, selectedMode: false,
    textStyle: { fontSize: 4.1, lineHeight: 5.5, color: '#1a1a1a', fontFamily: FONT }
  },
  grid, xAxis, yAxis, series, graphic
})
</script>
</body>
</html>
